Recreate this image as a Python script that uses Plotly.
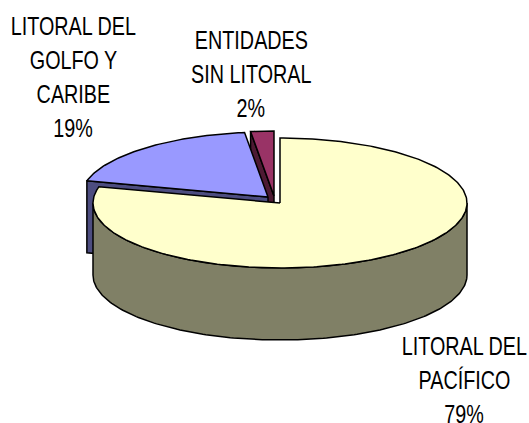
import numpy as np
import plotly.graph_objects as go

# Data
categories = ["LITORAL DEL PACÍFICO", "LITORAL DEL GOLFO Y CARIBE", "ENTIDADES SIN LITORAL"]
values = [79, 19, 2]
label_lines = [
    ["LITORAL DEL", "PACÍFICO", "79%"],
    ["LITORAL DEL", "GOLFO Y", "CARIBE", "19%"],
    ["ENTIDADES", "SIN LITORAL", "2%"],
]
top_colors = ["#FFFFCC", "#9999FF", "#993366"]
side_colors = ["#808066", "#4D4D80", "#4D1A33"]

# Pie geometry (pixel space of the hidden axes)
RX, RY, DEPTH = 187, 65, 72
apexes = [(280, 203), (268, 197), (274, 196)]
label_pos = [(464, 346), (73, 26), (251, 40)]
LINE_H = 34
FONT = dict(family="Liberation Sans, Arial", size=26, color="black")
TEXT_SQUEEZE = 0.76


def rim(cx, cy, t0, t1, dy=0):
    t = np.radians(np.linspace(t0, t1, max(3, int(abs(t1 - t0)) + 2)))
    return cx + RX * np.sin(t), cy - RY * np.cos(t) + dy


fig = go.Figure()


def poly(x, y, color):
    fig.add_trace(go.Scatter(
        x=list(x) + [x[0]], y=list(y) + [y[0]], mode="lines", fill="toself",
        fillcolor=color, line=dict(color="black", width=1.5), hoverinfo="skip",
        showlegend=False))


total = sum(values)
angles = np.cumsum([0] + values) / total * 360

# Painter's order: back slices first, the large front slice last
for i in [2, 1, 0]:
    t0, t1 = angles[i], angles[i + 1]
    cx, cy = apexes[i]
    if i == 0:
        wx, wy = rim(cx, cy, 90, 270)
        bx, by = rim(cx, cy, 270, 90, DEPTH)
        poly(np.r_[wx, bx], np.r_[wy, by], side_colors[i])
    else:
        rx0, ry0 = rim(cx, cy, t0, t0)
        poly([cx, rx0[0], rx0[0], cx], [cy, ry0[0], ry0[0] + DEPTH, cy + DEPTH], side_colors[i])
    x, y = rim(cx, cy, t0, t1)
    poly(np.r_[cx, x], np.r_[cy, y], top_colors[i])

for lines, (lx, ly) in zip(label_lines, label_pos):
    for k, s in enumerate(lines):
        fig.add_annotation(x=lx, y=ly + k * LINE_H, text=s, showarrow=False,
                           font=FONT, xanchor="center", yanchor="middle")

fig.update_xaxes(range=[0, 529], visible=False, fixedrange=True)
fig.update_yaxes(range=[423, 0], visible=False, fixedrange=True)
fig.update_layout(width=529, height=423, margin=dict(l=0, r=0, t=0, b=0),
                  paper_bgcolor="white", plot_bgcolor="white", showlegend=False)

post = """
document.body.style.margin='0';document.body.style.overflow='hidden';
var k=%s;
document.querySelectorAll('text.annotation-text').forEach(function(t){
  var w=t.getComputedTextLength();
  t.setAttribute('lengthAdjust','spacingAndGlyphs');
  t.setAttribute('textLength',w*k);
  var r=t.parentNode.parentNode.querySelector('rect.bg');
  if(r){var rw=parseFloat(r.getAttribute('width'));var rx=parseFloat(r.getAttribute('x')||0);
    r.setAttribute('x',rx+rw*(1-k)/2);r.setAttribute('width',rw*k);}
});
""" % TEXT_SQUEEZE
fig.write_html("out.html", config={"displayModeBar": False}, post_script=post)
